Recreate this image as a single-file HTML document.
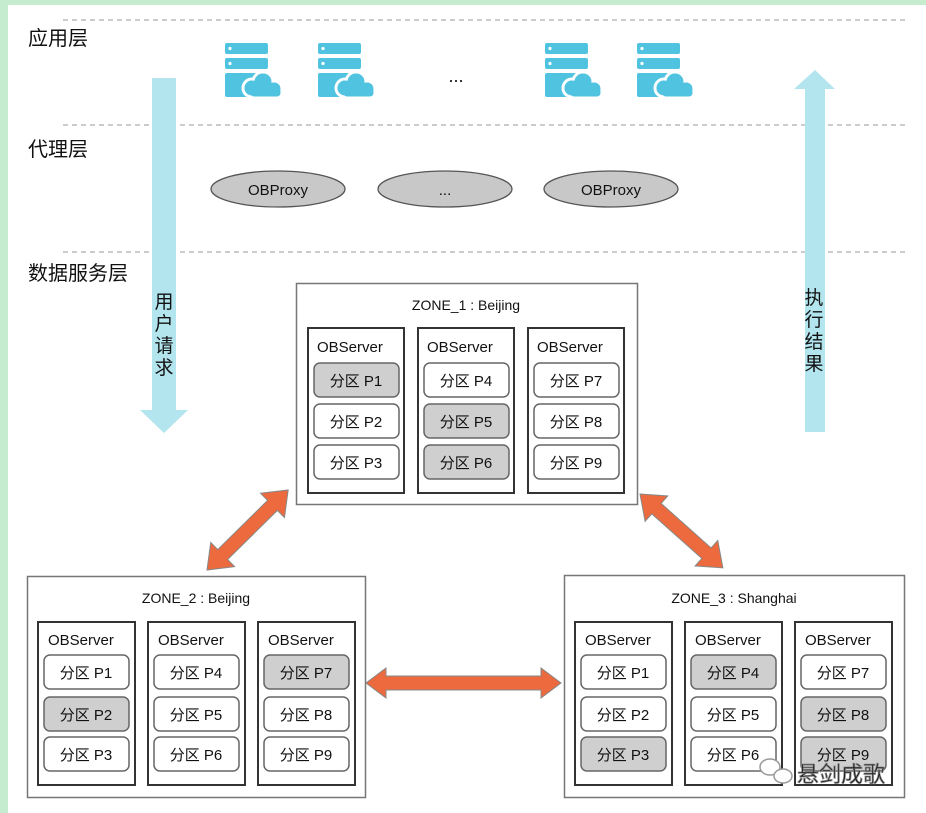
<!DOCTYPE html>
<html><head><meta charset="utf-8"><style>
html,body{margin:0;padding:0;background:#fff}
svg{display:block}
text{font-family:"Liberation Sans","Noto Sans CJK SC",sans-serif;fill:#111}
</style></head><body>
<svg width="926" height="813" viewBox="0 0 926 813" xmlns="http://www.w3.org/2000/svg">
<defs>
<g id="icon">
<rect x="0" y="0" width="43" height="11" rx="2" fill="#4fc3e0"/>
<rect x="0" y="15" width="43" height="11" rx="2" fill="#4fc3e0"/>
<circle cx="5" cy="5.5" r="1.6" fill="#fff"/><circle cx="5" cy="20.5" r="1.6" fill="#fff"/>
<rect x="0" y="30" width="38" height="24" rx="2" fill="#4fc3e0"/>
<g stroke="#fff" stroke-width="3" fill="#4fc3e0">
<circle cx="27" cy="45" r="9"/><circle cx="38" cy="39" r="10"/><circle cx="49" cy="46" r="8"/>
<rect x="24" y="44" width="33" height="11" rx="5"/>
</g>
<circle cx="27" cy="45" r="7.5" fill="#4fc3e0"/><circle cx="38" cy="39" r="8.5" fill="#4fc3e0"/><circle cx="49" cy="46" r="6.5" fill="#4fc3e0"/>
</g>
</defs>
<rect x="0" y="0" width="926" height="5" fill="#c6ecd0"/>
<rect x="0" y="0" width="8" height="813" fill="#c6ecd0"/>
<g stroke="#999" stroke-dasharray="5,4" stroke-width="1">
<line x1="63" y1="20" x2="908" y2="20"/><line x1="63" y1="125" x2="908" y2="125"/><line x1="63" y1="252" x2="908" y2="252"/>
</g>
<text x="28" y="45" font-size="20">应用层</text>
<text x="28" y="156" font-size="20">代理层</text>
<text x="28" y="280" font-size="20">数据服务层</text>
<!-- blue arrows -->
<polygon points="152,78 176,78 176,410 188,410 164,433 140,410 152,410" fill="#b3e5ef"/>
<polygon points="805,432 825,432 825,89 835,89 815,70 794,89 805,89" fill="#b3e5ef"/>
<g font-size="19" text-anchor="middle">
<text x="164" y="308">用</text><text x="164" y="330">户</text><text x="164" y="352">请</text><text x="164" y="374">求</text>
<text x="814" y="304">执</text><text x="814" y="326">行</text><text x="814" y="348">结</text><text x="814" y="370">果</text>
</g>
<use href="#icon" x="225" y="43"/><use href="#icon" x="318" y="43"/><use href="#icon" x="545" y="43"/><use href="#icon" x="637" y="43"/>
<text x="456" y="82" font-size="18" text-anchor="middle">...</text>
<g fill="#c8c8c8" stroke="#555" stroke-width="1.3">
<ellipse cx="278" cy="189" rx="67" ry="18"/><ellipse cx="445" cy="189" rx="67" ry="18"/><ellipse cx="611" cy="189" rx="67" ry="18"/>
</g>
<g font-size="15" text-anchor="middle">
<text x="278" y="195">OBProxy</text><text x="445" y="195">...</text><text x="611" y="195">OBProxy</text>
</g>
<!-- orange arrows -->
<g fill="#ec6a3d" stroke="#888" stroke-width="1">
<polygon transform="translate(207,570) rotate(-44.6)" points="0,0 22,-17 22,-7 92,-7 92,-17 114,0 92,17 92,7 22,7 22,17"/>
<polygon transform="translate(640,494) rotate(41.7)" points="0,0 22,-17 22,-7 89,-7 89,-17 111,0 89,17 89,7 22,7 22,17"/>
<polygon transform="translate(366,683)" points="0,0 20,-15 20,-7 175,-7 175,-15 195,0 175,15 175,7 20,7 20,15"/>
</g>
<!-- zones -->
<g id="zones" font-size="14">
<rect x="296.5" y="283.5" width="341" height="221" fill="#fff" stroke="#777" stroke-width="1.5"/>
<text x="466" y="310" text-anchor="middle">ZONE_1 : Beijing</text>
<rect x="27.5" y="576.5" width="338" height="221" fill="#fff" stroke="#777" stroke-width="1.5"/>
<text x="196" y="603" text-anchor="middle">ZONE_2 : Beijing</text>
<rect x="564.5" y="575.5" width="340" height="222" fill="#fff" stroke="#777" stroke-width="1.5"/>
<text x="734" y="603" text-anchor="middle">ZONE_3 : Shanghai</text>
</g>
<g font-size="15" stroke-width="2">
<!-- Zone1 servers -->
<g transform="translate(308,328)">
<rect x="0" y="0" width="96" height="165" fill="#fff" stroke="#333"/><text x="9" y="24" stroke="none">OBServer</text>
<rect x="6" y="35" width="85" height="34" rx="6" fill="#cfcfcf" stroke="#666" stroke-width="1.5"/><text x="48" y="58" text-anchor="middle" stroke="none">分区 P1</text>
<rect x="6" y="76" width="85" height="34" rx="6" fill="#fff" stroke="#666" stroke-width="1.5"/><text x="48" y="99" text-anchor="middle" stroke="none">分区 P2</text>
<rect x="6" y="117" width="85" height="34" rx="6" fill="#fff" stroke="#666" stroke-width="1.5"/><text x="48" y="140" text-anchor="middle" stroke="none">分区 P3</text>
</g>
<g transform="translate(418,328)">
<rect x="0" y="0" width="96" height="165" fill="#fff" stroke="#333"/><text x="9" y="24" stroke="none">OBServer</text>
<rect x="6" y="35" width="85" height="34" rx="6" fill="#fff" stroke="#666" stroke-width="1.5"/><text x="48" y="58" text-anchor="middle" stroke="none">分区 P4</text>
<rect x="6" y="76" width="85" height="34" rx="6" fill="#cfcfcf" stroke="#666" stroke-width="1.5"/><text x="48" y="99" text-anchor="middle" stroke="none">分区 P5</text>
<rect x="6" y="117" width="85" height="34" rx="6" fill="#cfcfcf" stroke="#666" stroke-width="1.5"/><text x="48" y="140" text-anchor="middle" stroke="none">分区 P6</text>
</g>
<g transform="translate(528,328)">
<rect x="0" y="0" width="96" height="165" fill="#fff" stroke="#333"/><text x="9" y="24" stroke="none">OBServer</text>
<rect x="6" y="35" width="85" height="34" rx="6" fill="#fff" stroke="#666" stroke-width="1.5"/><text x="48" y="58" text-anchor="middle" stroke="none">分区 P7</text>
<rect x="6" y="76" width="85" height="34" rx="6" fill="#fff" stroke="#666" stroke-width="1.5"/><text x="48" y="99" text-anchor="middle" stroke="none">分区 P8</text>
<rect x="6" y="117" width="85" height="34" rx="6" fill="#fff" stroke="#666" stroke-width="1.5"/><text x="48" y="140" text-anchor="middle" stroke="none">分区 P9</text>
</g>
<!-- Zone2 -->
<g transform="translate(38,622)">
<rect x="0" y="0" width="97" height="163" fill="#fff" stroke="#333"/><text x="10" y="23" stroke="none">OBServer</text>
<rect x="6" y="33" width="85" height="34" rx="6" fill="#fff" stroke="#666" stroke-width="1.5"/><text x="48" y="56" text-anchor="middle" stroke="none">分区 P1</text>
<rect x="6" y="75" width="85" height="34" rx="6" fill="#cfcfcf" stroke="#666" stroke-width="1.5"/><text x="48" y="98" text-anchor="middle" stroke="none">分区 P2</text>
<rect x="6" y="115" width="85" height="34" rx="6" fill="#fff" stroke="#666" stroke-width="1.5"/><text x="48" y="138" text-anchor="middle" stroke="none">分区 P3</text>
</g>
<g transform="translate(148,622)">
<rect x="0" y="0" width="97" height="163" fill="#fff" stroke="#333"/><text x="10" y="23" stroke="none">OBServer</text>
<rect x="6" y="33" width="85" height="34" rx="6" fill="#fff" stroke="#666" stroke-width="1.5"/><text x="48" y="56" text-anchor="middle" stroke="none">分区 P4</text>
<rect x="6" y="75" width="85" height="34" rx="6" fill="#fff" stroke="#666" stroke-width="1.5"/><text x="48" y="98" text-anchor="middle" stroke="none">分区 P5</text>
<rect x="6" y="115" width="85" height="34" rx="6" fill="#fff" stroke="#666" stroke-width="1.5"/><text x="48" y="138" text-anchor="middle" stroke="none">分区 P6</text>
</g>
<g transform="translate(258,622)">
<rect x="0" y="0" width="97" height="163" fill="#fff" stroke="#333"/><text x="10" y="23" stroke="none">OBServer</text>
<rect x="6" y="33" width="85" height="34" rx="6" fill="#cfcfcf" stroke="#666" stroke-width="1.5"/><text x="48" y="56" text-anchor="middle" stroke="none">分区 P7</text>
<rect x="6" y="75" width="85" height="34" rx="6" fill="#fff" stroke="#666" stroke-width="1.5"/><text x="48" y="98" text-anchor="middle" stroke="none">分区 P8</text>
<rect x="6" y="115" width="85" height="34" rx="6" fill="#fff" stroke="#666" stroke-width="1.5"/><text x="48" y="138" text-anchor="middle" stroke="none">分区 P9</text>
</g>
<!-- Zone3 -->
<g transform="translate(575,622)">
<rect x="0" y="0" width="97" height="163" fill="#fff" stroke="#333"/><text x="10" y="23" stroke="none">OBServer</text>
<rect x="6" y="33" width="85" height="34" rx="6" fill="#fff" stroke="#666" stroke-width="1.5"/><text x="48" y="56" text-anchor="middle" stroke="none">分区 P1</text>
<rect x="6" y="75" width="85" height="34" rx="6" fill="#fff" stroke="#666" stroke-width="1.5"/><text x="48" y="98" text-anchor="middle" stroke="none">分区 P2</text>
<rect x="6" y="115" width="85" height="34" rx="6" fill="#cfcfcf" stroke="#666" stroke-width="1.5"/><text x="48" y="138" text-anchor="middle" stroke="none">分区 P3</text>
</g>
<g transform="translate(685,622)">
<rect x="0" y="0" width="97" height="163" fill="#fff" stroke="#333"/><text x="10" y="23" stroke="none">OBServer</text>
<rect x="6" y="33" width="85" height="34" rx="6" fill="#cfcfcf" stroke="#666" stroke-width="1.5"/><text x="48" y="56" text-anchor="middle" stroke="none">分区 P4</text>
<rect x="6" y="75" width="85" height="34" rx="6" fill="#fff" stroke="#666" stroke-width="1.5"/><text x="48" y="98" text-anchor="middle" stroke="none">分区 P5</text>
<rect x="6" y="115" width="85" height="34" rx="6" fill="#fff" stroke="#666" stroke-width="1.5"/><text x="48" y="138" text-anchor="middle" stroke="none">分区 P6</text>
</g>
<g transform="translate(795,622)">
<rect x="0" y="0" width="97" height="163" fill="#fff" stroke="#333"/><text x="10" y="23" stroke="none">OBServer</text>
<rect x="6" y="33" width="85" height="34" rx="6" fill="#fff" stroke="#666" stroke-width="1.5"/><text x="48" y="56" text-anchor="middle" stroke="none">分区 P7</text>
<rect x="6" y="75" width="85" height="34" rx="6" fill="#cfcfcf" stroke="#666" stroke-width="1.5"/><text x="48" y="98" text-anchor="middle" stroke="none">分区 P8</text>
<rect x="6" y="115" width="85" height="34" rx="6" fill="#cfcfcf" stroke="#666" stroke-width="1.5"/><text x="48" y="138" text-anchor="middle" stroke="none">分区 P9</text>
</g>
</g>
<!-- watermark -->
<g fill="none" stroke="#999" stroke-width="1.5">
<ellipse cx="770" cy="767" rx="10" ry="8" fill="#fff"/><ellipse cx="783" cy="776" rx="9" ry="7" fill="#fff"/>
</g>
<text x="797" y="782" font-size="22" fill="#eee" stroke="#888" stroke-width="0.8">悬剑成歌</text>
</svg>
</body></html>
